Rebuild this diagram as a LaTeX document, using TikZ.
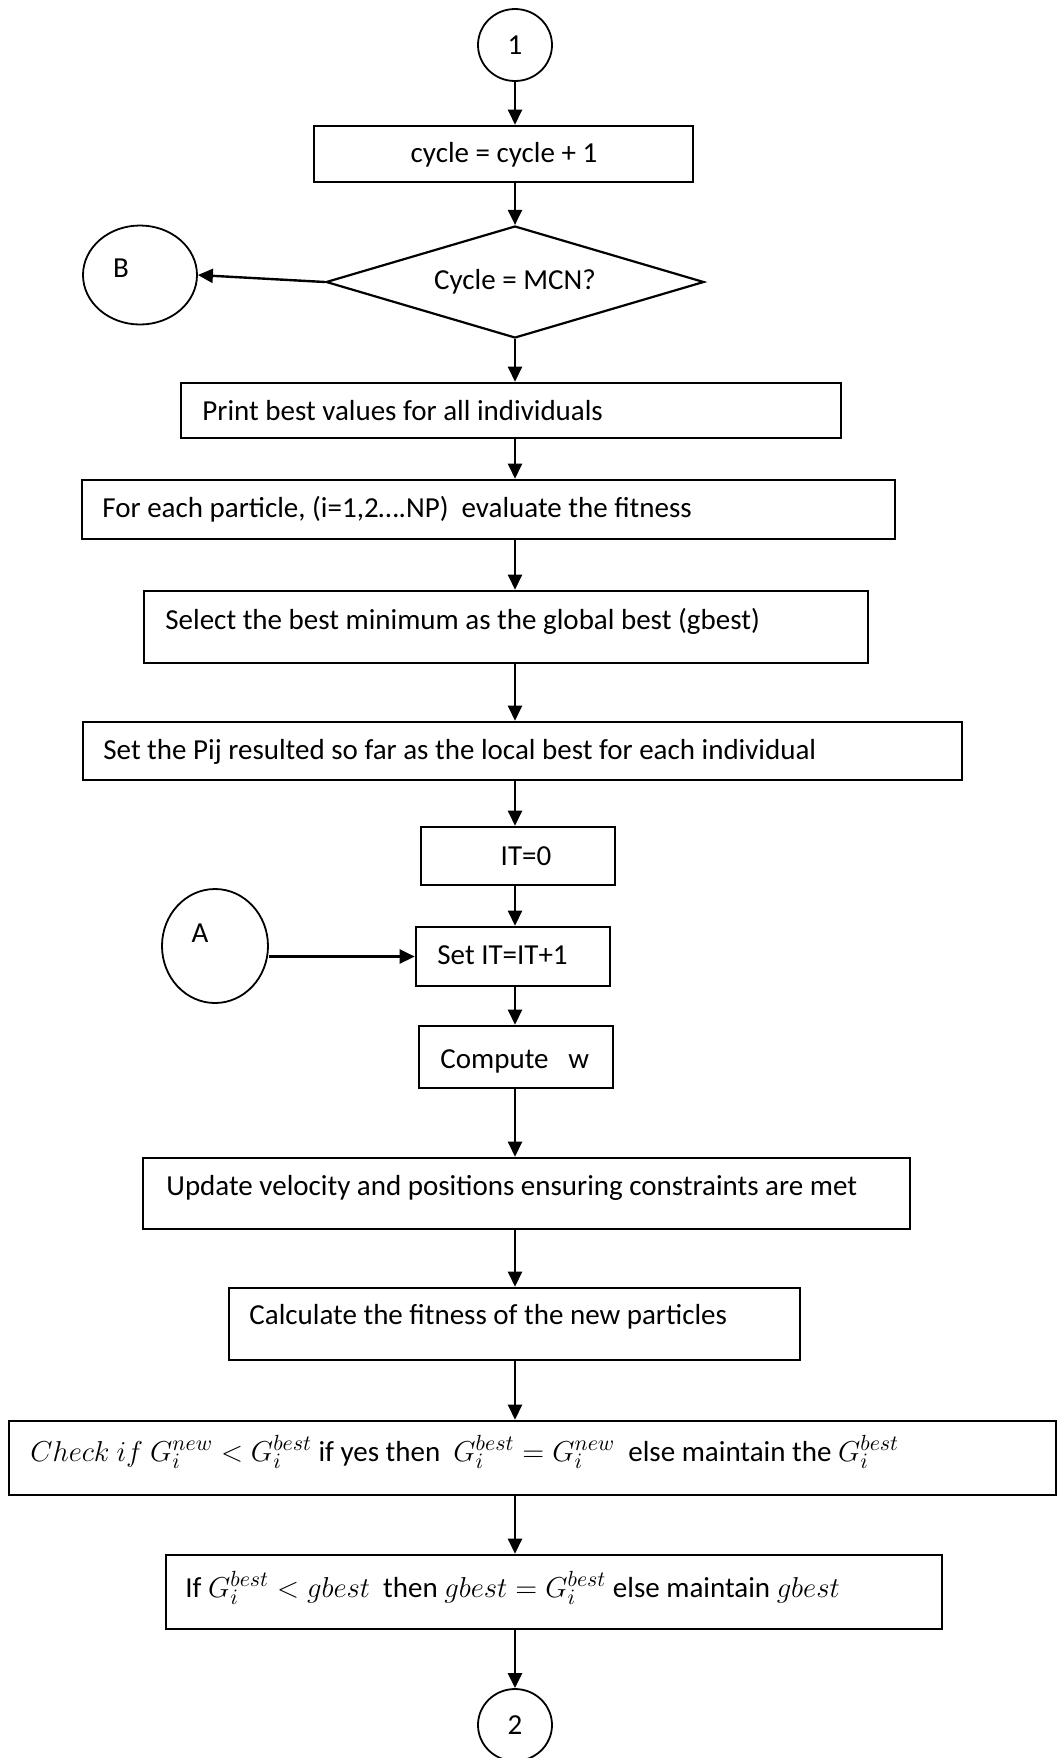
\documentclass[tikz,border=0pt]{standalone}
\usepackage{fontspec}
\setmainfont{Carlito}
\usetikzlibrary{arrows.meta,shapes.geometric,fit}
\newcommand{\mth}[1]{{\fontsize{15.4}{17}\selectfont$#1$}}
\begin{document}
\begin{tikzpicture}[x=0.5pt,y=-0.5pt,
  every node/.style={font=\fontsize{14.5}{17}\selectfont},
  box/.style={draw, rectangle, line width=1.3pt, inner sep=0pt},
  conn/.style={draw, ellipse, line width=0.9pt, inner sep=0pt},
  decision/.style={draw, diamond, line width=1.1pt, inner sep=0pt, shape aspect=3.375},
  txt/.style={anchor=west, inner sep=0pt},
  arr/.style={line width=1.2pt, -{Triangle[length=7.5pt,width=7pt]}}]

\useasboundingbox (0,0) rectangle (1057,1758);
\coordinate (sp) at (515,0);

% connectors (off-page and on-page)
\node[conn, minimum width=37pt, minimum height=36pt] (c1) at (515,45) {1};
\node[conn, minimum width=57pt, minimum height=49.5pt] (B) at (140,275) {};
\node[inner sep=0pt] (Btxt) at (121,268) {B};
\node[conn, minimum width=53pt, minimum height=57pt] (A) at (215,946) {};
\node[inner sep=0pt] (Atxt) at (200,933) {A};
\node[conn, minimum width=37pt, minimum height=36pt] (c2) at (515,1725) {2};

% process boxes
\node[box, fit={(314,126) (693,182)}] (cyc) {};
\node (cyctxt) at (504,155) {cycle = cycle + 1};
\node[decision, minimum width=189pt, minimum height=56pt] (dia) at (515,282) {Cycle = MCN?};

\node[box, fit={(181,383) (841,438)}] (print) {};
\node[txt] at (202,411) {Print best values for all individuals};

\node[box, fit={(82,480) (895,539)}] (each) {};
\node[txt] at (102,509) {For each particle, (i=1,2….NP)\ \ evaluate the fitness};

\node[box, fit={(144,591) (868,663)}] (select) {};
\node[txt] at (165,621) {Select the best minimum as the global best (gbest)};

\node[box, fit={(83,722) (962,780)}] (pij) {};
\node[txt] at (103,752) {Set the Pij resulted so far as the local best for each individual};

\node[box, fit={(421,827) (615,885)}] (itz) {};
\node (itztxt) at (526,856) {IT=0};

\node[box, fit={(416,927) (610,986)}] (setit) {};
\node[txt] at (437,955) {Set IT=IT+1};

\node[box, fit={(419,1026) (613,1088)}] (comp) {};
\node[txt] at (440,1061) {Compute\ \ \ w};

\node[box, fit={(143,1158) (910,1229)}] (upd) {};
\node[txt] at (166,1188) {Update velocity and positions ensuring constraints are met};

\node[box, fit={(229,1288) (800,1360)}] (calc) {};
\node[txt] at (249,1317) {Calculate the fitness of the new particles};

\node[box, fit={(9,1421) (1056,1495)}] (check) {};
\node[txt] at (30,1452) {\mth{Check\ if\ G_i^{new} < G_i^{best}} if yes then\ \ \mth{G_i^{best} = G_i^{new}}\ \ else maintain the \mth{G_i^{best}}};

\node[box, fit={(166,1555) (942,1629)}] (iff) {};
\node[txt] at (185,1588) {If \mth{G_i^{best} < gbest}\ \ then \mth{gbest = G_i^{best}} else maintain \mth{gbest}};

% flow lines
\draw[arr] (c1.south) -- (cyc.north -| c1.south);
\draw[arr] (cyc.south -| sp) -- (dia.north);
\draw[arr] (dia.west) -- (B.east);
\draw[arr] (dia.south) -- (print.north -| dia.south);
\draw[arr] (print.south -| sp) -- (each.north -| sp);
\draw[arr] (each.south -| sp) -- (select.north -| sp);
\draw[arr] (select.south -| sp) -- (pij.north -| sp);
\draw[arr] (pij.south -| sp) -- (itz.north -| sp);
\draw[arr] (itz.south -| sp) -- (setit.north -| sp);
\draw[arr] (setit.west -| A.east) -- (setit.west);
\draw[arr] (setit.south -| sp) -- (comp.north -| sp);
\draw[arr] (comp.south -| sp) -- (upd.north -| sp);
\draw[arr] (upd.south -| sp) -- (calc.north -| sp);
\draw[arr] (calc.south -| sp) -- (check.north -| sp);
\draw[arr] (check.south -| sp) -- (iff.north -| sp);
\draw[arr] (iff.south -| sp) -- (c2.north);
\end{tikzpicture}
\end{document}
